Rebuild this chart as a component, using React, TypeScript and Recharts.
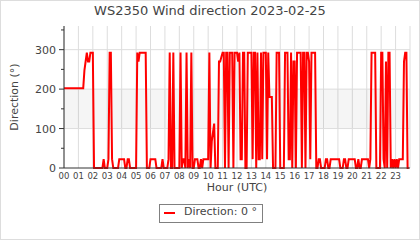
import {
    LineChart,
    Line,
    XAxis,
    YAxis,
    CartesianGrid,
    ReferenceArea,
    ReferenceLine,
    Label,
} from "recharts";

// Wind direction every 5 minutes, one row per hour (00..23)
const directions: number[] = [
    202.5, 202.5, 202.5, 202.5, 202.5, 202.5, 202.5, 202.5, 202.5, 202.5, 202.5, 202.5, // 00
    202.5, 202.5, 202.5, 202.5, 202.5, 247.5, 270, 292.5, 270, 270, 292.5, 292.5, // 01
    292.5, 0, 0, 0, 0, 0, 0, 0, 0, 22.5, 0, 0, // 02
    0, 22.5, 292.5, 292.5, 22.5, 0, 0, 0, 0, 0, 22.5, 22.5, // 03
    22.5, 22.5, 22.5, 0, 0, 22.5, 22.5, 0, 0, 0, 0, 0, // 04
    0, 292.5, 270, 292.5, 292.5, 292.5, 292.5, 292.5, 292.5, 0, 0, 0, // 05
    22.5, 22.5, 22.5, 22.5, 22.5, 0, 0, 0, 0, 0, 22.5, 0, // 06
    0, 0, 0, 22.5, 292.5, 0, 0, 292.5, 0, 0, 0, 0, // 07
    0, 292.5, 0, 22.5, 22.5, 0, 292.5, 0, 22.5, 0, 292.5, 0, // 08
    0, 22.5, 22.5, 22.5, 0, 0, 22.5, 0, 22.5, 22.5, 22.5, 22.5, // 09
    22.5, 292.5, 0, 67.5, 90, 112.5, 0, 0, 0, 270, 270, 281.25, // 10
    292.5, 292.5, 0, 292.5, 292.5, 0, 292.5, 292.5, 292.5, 0, 292.5, 292.5, // 11
    292.5, 270, 292.5, 22.5, 22.5, 292.5, 292.5, 0, 0, 292.5, 292.5, 292.5, // 12
    292.5, 22.5, 292.5, 292.5, 0, 292.5, 22.5, 22.5, 292.5, 22.5, 292.5, 292.5, // 13
    292.5, 22.5, 292.5, 180, 180, 180, 0, 0, 0, 292.5, 292.5, 292.5, // 14
    0, 0, 0, 0, 292.5, 292.5, 292.5, 22.5, 22.5, 292.5, 0, 270, // 15
    270, 0, 292.5, 292.5, 292.5, 292.5, 0, 292.5, 292.5, 0, 292.5, 292.5, // 16
    270, 22.5, 292.5, 292.5, 292.5, 292.5, 0, 0, 22.5, 22.5, 0, 0, // 17
    0, 0, 22.5, 22.5, 0, 0, 22.5, 22.5, 22.5, 22.5, 22.5, 22.5, // 18
    22.5, 22.5, 0, 0, 0, 22.5, 22.5, 0, 0, 22.5, 22.5, 22.5, // 19
    22.5, 22.5, 22.5, 0, 0, 22.5, 0, 0, 22.5, 22.5, 22.5, 22.5, // 20
    22.5, 22.5, 0, 22.5, 292.5, 292.5, 292.5, 292.5, 0, 0, 0, 0, // 21
    292.5, 292.5, 22.5, 0, 270, 0, 292.5, 292.5, 0, 22.5, 0, 22.5, // 22
    0, 22.5, 0, 22.5, 22.5, 22.5, 22.5, 270, 292.5, 292.5, 0, 0, // 23
];

const hourTicks = [
    0, 1, 2, 3, 4, 5, 6, 7, 8, 9, 10, 11,
    12, 13, 14, 15, 16, 17, 18, 19, 20, 21, 22, 23,
];
const dirTicks = [0, 50, 100, 150, 200, 250, 300, 350];
const bandRange = [100, 200];
const gridValues = [100, 200, 300];

const data = directions.map((d, i) => ({ hour: (i * 5) / 60, dir: d }));

const FONT = "'DejaVu Sans', sans-serif";
const TEXT = "#444";
const AXIS = "#333";
const GRID = "#dddddd";

const XTick = ({ x, y, payload }: any) => (
    <text x={x} y={y + 11} textAnchor="middle" fill={TEXT} fontSize={8.5} fontFamily={FONT}>
        {String(payload.value).padStart(2, "0")}
    </text>
);

const YTick = ({ x, y, payload }: any) => {
    const major = payload.value % 100 === 0;
    return (
        <g>
            <line x1={x - (major ? 5 : 3)} y1={y} x2={x} y2={y} stroke={AXIS} strokeWidth={1} />
            {major && (
                <text x={x - 8} y={y + 4} textAnchor="end" fill={TEXT} fontSize={11} fontFamily={FONT}>
                    {payload.value}
                </text>
            )}
        </g>
    );
};

export default function App() {
    return (
        <div style={{
            position: "absolute",
            left: 0,
            top: 0,
            width: 420,
            height: 240,
            background: "#fff",
            fontFamily: FONT,
        }}>
            <div style={{
                position: "absolute",
                inset: 0,
                border: "1px solid #dddddd",
                boxSizing: "border-box",
            }} />
            <div style={{
                position: "absolute",
                left: 0,
                top: 3,
                width: 420,
                textAlign: "center",
                fontSize: 13,
                color: TEXT,
                whiteSpace: "nowrap",
            }}>
                WS2350 Wind direction 2023-02-25
            </div>

            <div style={{ position: "absolute", left: 0, top: 0 }}>
                <LineChart
                    width={420}
                    height={240}
                    data={data}
                    margin={{ top: 26, right: 10, left: 0, bottom: 0 }}
                >
                    <ReferenceArea
                        y1={bandRange[0]}
                        y2={bandRange[1]}
                        fill="#000"
                        fillOpacity={0.04}
                        stroke="none"
                        ifOverflow="visible"
                    />
                    <CartesianGrid horizontal={false} stroke={GRID} />
                    {gridValues.map((v) => (
                        <ReferenceLine key={v} y={v} stroke={GRID} />
                    ))}
                    <XAxis
                        type="number"
                        dataKey="hour"
                        domain={[0, 24]}
                        ticks={hourTicks}
                        interval={0}
                        height={72}
                        tickSize={0}
                        tickMargin={0}
                        tickLine={false}
                        axisLine={{ stroke: AXIS }}
                        tick={<XTick />}
                    >
                        <Label
                            content={({ viewBox }: any) => (
                                <text
                                    x={viewBox.x + viewBox.width / 2}
                                    y={191}
                                    textAnchor="middle"
                                    fill={TEXT}
                                    fontSize={11}
                                    fontFamily={FONT}
                                >
                                    Hour (UTC)
                                </text>
                            )}
                        />
                    </XAxis>
                    <YAxis
                        type="number"
                        domain={[0, 360]}
                        ticks={dirTicks}
                        interval={0}
                        width={64}
                        tickSize={0}
                        tickMargin={0}
                        tickLine={false}
                        axisLine={{ stroke: AXIS }}
                        tick={<YTick />}
                    >
                        <Label
                            content={({ viewBox }: any) => {
                                const cy = viewBox.y + viewBox.height / 2;
                                return (
                                    <text
                                        x={18}
                                        y={cy}
                                        transform={`rotate(-90, 18, ${cy})`}
                                        textAnchor="middle"
                                        fill={TEXT}
                                        fontSize={11}
                                        fontFamily={FONT}
                                    >
                                        Direction (°)
                                    </text>
                                );
                            }}
                        />
                    </YAxis>
                    <Line
                        type="linear"
                        dataKey="dir"
                        stroke="#ff0000"
                        strokeWidth={2}
                        dot={false}
                        isAnimationActive={false}
                    />
                </LineChart>
            </div>

            <div style={{
                position: "absolute",
                left: 159,
                top: 204,
                width: 104,
                height: 19,
                border: "1px solid #808080",
                boxSizing: "border-box",
            }}>
                <div style={{
                    position: "absolute",
                    left: 4,
                    top: 7,
                    width: 11,
                    height: 2,
                    background: "#ff0000",
                }} />
                <div style={{
                    position: "absolute",
                    left: 24,
                    top: 0,
                    fontSize: 11,
                    color: TEXT,
                    whiteSpace: "nowrap",
                }}>
                    Direction: 0 °
                </div>
            </div>
        </div>
    );
}
